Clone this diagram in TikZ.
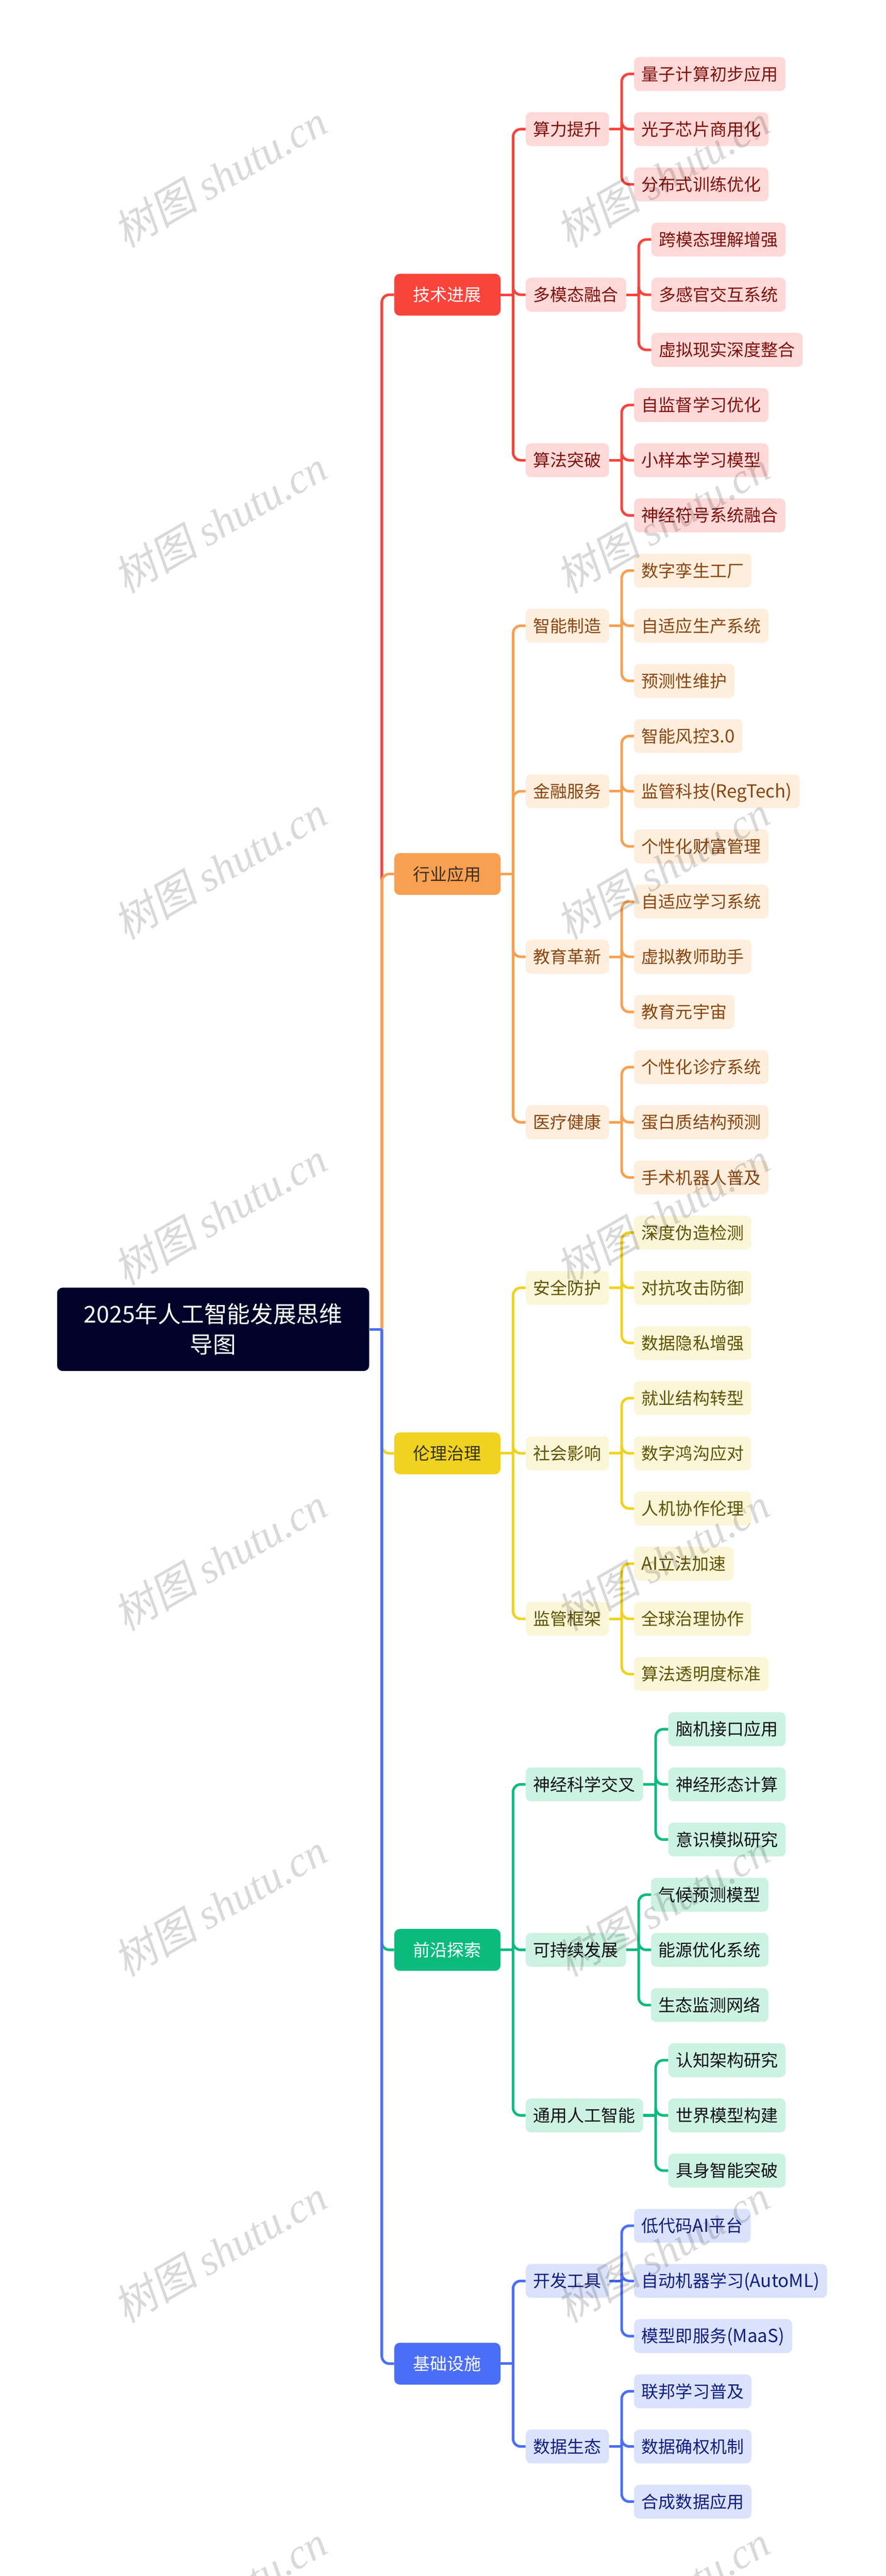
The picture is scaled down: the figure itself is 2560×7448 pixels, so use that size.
\documentclass[tikz,border=0pt]{standalone}
\usepackage{fontspec}
\setmainfont{Noto Sans CJK SC}
\newfontfamily\wmcjk[FakeSlant=0.18]{Noto Sans CJK SC}
\newfontfamily\wmlat{Liberation Serif}
\definecolor{redLine}{HTML}{F9443C}\definecolor{redFill}{HTML}{FDD9D8}\definecolor{redText}{HTML}{7F0F0A}
\definecolor{oraLine}{HTML}{F9A052}\definecolor{oraFill}{HTML}{FDEEDD}\definecolor{oraText}{HTML}{8A4510}\definecolor{oraHead}{HTML}{3B2E1E}
\definecolor{yelLine}{HTML}{F1D220}\definecolor{yelFill}{HTML}{FCF6D9}\definecolor{yelText}{HTML}{5F5300}\definecolor{yelHead}{HTML}{333322}
\definecolor{grnLine}{HTML}{0BBB7E}\definecolor{grnFill}{HTML}{CCF2E3}\definecolor{grnText}{HTML}{111111}
\definecolor{bluLine}{HTML}{4B6EF8}\definecolor{bluFill}{HTML}{DBE2FB}\definecolor{bluText}{HTML}{0F1F80}
\definecolor{rootFill}{HTML}{000229}
\newcommand{\lat}[1]{{\fontsize{26pt}{30pt}\selectfont #1}}
\newcommand{\leafbox}[5]{\node[subbox,#1] (#2) at (#3,{214+159.52*#4}) {#5};}
\newcommand{\mainbox}[4]{\node[topicbox,#1] (#2) at (1139,{214+159.52*#3}) {#4};}
\newcommand{\branch}[3]{\draw[conn,#1] (#2.east) -- ++(36,0) coordinate (tmpj);
  \draw[conn,#1,rounded corners=11pt] (tmpj) |- (#3.west);}
\begin{document}
\begin{tikzpicture}[x=0.5pt,y=-0.5pt,
  subbox/.style={anchor=west,rectangle,rounded corners=7.5pt,minimum height=49pt,inner xsep=11pt,inner ysep=0pt,
    font=\fontsize{24.6pt}{30pt}\selectfont,text height=24.6pt,text depth=5.9pt},
  topicbox/.style={anchor=west,rectangle,rounded corners=8pt,minimum height=60.5pt,minimum width=153.5pt,inner sep=0pt,
    font=\fontsize{24.6pt}{30pt}\selectfont,text height=24.6pt,text depth=5.9pt},
  redS/.style={fill=redFill,text=redText},oraS/.style={fill=oraFill,text=oraText},
  yelS/.style={fill=yelFill,text=yelText},grnS/.style={fill=grnFill,text=grnText},bluS/.style={fill=bluFill,text=bluText},
  redT/.style={fill=redLine,text=white},oraT/.style={fill=oraLine,text=oraHead},
  yelT/.style={fill=yelLine,text=yelHead},grnT/.style={fill=grnLine,text=white},bluT/.style={fill=bluLine,text=white},
  conn/.style={line width=3.75pt,line cap=butt},
  redC/.style={draw=redLine},oraC/.style={draw=oraLine},yelC/.style={draw=yelLine},grnC/.style={draw=grnLine},bluC/.style={draw=bluLine},
  wm/.style={rotate=30,text=black,text opacity=0.15,inner sep=0pt,font=\fontsize{61pt}{61pt}\selectfont}]
\fill[white] (0,0) rectangle (2560,7448);
\useasboundingbox (0,0) rectangle (2560,7448);
\node[rectangle,rounded corners=8pt,fill=rootFill,text=white,minimum width=451pt,minimum height=120.5pt,inner sep=0pt,align=center,
  font=\fontsize{33.3pt}{44pt}\selectfont] (root) at (616,3843.5) {2025年人工智能发展思维\\导图};
% level one
\mainbox{redT}{a}{4}{技术进展}
\mainbox{oraT}{b}{14.5}{行业应用}
\mainbox{yelT}{c}{25}{伦理治理}
\mainbox{grnT}{d}{34}{前沿探索}
\mainbox{bluT}{e}{41.5}{基础设施}
% red family
\leafbox{redS}{a1}{1519}{1}{算力提升}
\leafbox{redS}{a11}{1832}{0}{量子计算初步应用}
\leafbox{redS}{a12}{1832}{1}{光子芯片商用化}
\leafbox{redS}{a13}{1832}{2}{分布式训练优化}
\leafbox{redS}{a2}{1519}{4}{多模态融合}
\leafbox{redS}{a21}{1882}{3}{跨模态理解增强}
\leafbox{redS}{a22}{1882}{4}{多感官交互系统}
\leafbox{redS}{a23}{1882}{5}{虚拟现实深度整合}
\leafbox{redS}{a3}{1519}{7}{算法突破}
\leafbox{redS}{a31}{1832}{6}{自监督学习优化}
\leafbox{redS}{a32}{1832}{7}{小样本学习模型}
\leafbox{redS}{a33}{1832}{8}{神经符号系统融合}
% orange family
\leafbox{oraS}{b1}{1519}{10}{智能制造}
\leafbox{oraS}{b11}{1832}{9}{数字孪生工厂}
\leafbox{oraS}{b12}{1832}{10}{自适应生产系统}
\leafbox{oraS}{b13}{1832}{11}{预测性维护}
\leafbox{oraS}{b2}{1519}{13}{金融服务}
\leafbox{oraS}{b21}{1832}{12}{智能风控\lat{3.0}}
\leafbox{oraS}{b22}{1832}{13}{监管科技\lat{(RegTech)}}
\leafbox{oraS}{b23}{1832}{14}{个性化财富管理}
\leafbox{oraS}{b3}{1519}{16}{教育革新}
\leafbox{oraS}{b31}{1832}{15}{自适应学习系统}
\leafbox{oraS}{b32}{1832}{16}{虚拟教师助手}
\leafbox{oraS}{b33}{1832}{17}{教育元宇宙}
\leafbox{oraS}{b4}{1519}{19}{医疗健康}
\leafbox{oraS}{b41}{1832}{18}{个性化诊疗系统}
\leafbox{oraS}{b42}{1832}{19}{蛋白质结构预测}
\leafbox{oraS}{b43}{1832}{20}{手术机器人普及}
% yellow family
\leafbox{yelS}{c1}{1519}{22}{安全防护}
\leafbox{yelS}{c11}{1832}{21}{深度伪造检测}
\leafbox{yelS}{c12}{1832}{22}{对抗攻击防御}
\leafbox{yelS}{c13}{1832}{23}{数据隐私增强}
\leafbox{yelS}{c2}{1519}{25}{社会影响}
\leafbox{yelS}{c21}{1832}{24}{就业结构转型}
\leafbox{yelS}{c22}{1832}{25}{数字鸿沟应对}
\leafbox{yelS}{c23}{1832}{26}{人机协作伦理}
\leafbox{yelS}{c3}{1519}{28}{监管框架}
\leafbox{yelS}{c31}{1832}{27}{\lat{AI}立法加速}
\leafbox{yelS}{c32}{1832}{28}{全球治理协作}
\leafbox{yelS}{c33}{1832}{29}{算法透明度标准}
% green family
\leafbox{grnS}{d1}{1519}{31}{神经科学交叉}
\leafbox{grnS}{d11}{1931}{30}{脑机接口应用}
\leafbox{grnS}{d12}{1931}{31}{神经形态计算}
\leafbox{grnS}{d13}{1931}{32}{意识模拟研究}
\leafbox{grnS}{d2}{1519}{34}{可持续发展}
\leafbox{grnS}{d21}{1881}{33}{气候预测模型}
\leafbox{grnS}{d22}{1881}{34}{能源优化系统}
\leafbox{grnS}{d23}{1881}{35}{生态监测网络}
\leafbox{grnS}{d3}{1519}{37}{通用人工智能}
\leafbox{grnS}{d31}{1931}{36}{认知架构研究}
\leafbox{grnS}{d32}{1931}{37}{世界模型构建}
\leafbox{grnS}{d33}{1931}{38}{具身智能突破}
% blue family
\leafbox{bluS}{e1}{1519}{40}{开发工具}
\leafbox{bluS}{e11}{1832}{39}{低代码\lat{AI}平台}
\leafbox{bluS}{e12}{1832}{40}{自动机器学习\lat{(AutoML)}}
\leafbox{bluS}{e13}{1832}{41}{模型即服务\lat{(MaaS)}}
\leafbox{bluS}{e2}{1519}{43}{数据生态}
\leafbox{bluS}{e21}{1832}{42}{联邦学习普及}
\leafbox{bluS}{e22}{1832}{43}{数据确权机制}
\leafbox{bluS}{e23}{1832}{44}{合成数据应用}
% connectors
\branch{redC}{root}{a}
\foreach \k in {a1,a2,a3}{\branch{redC}{a}{\k}}
\foreach \p in {a1,a2,a3}{\foreach \k in {1,2,3}{\branch{redC}{\p}{\p\k}}}
\branch{oraC}{root}{b}
\foreach \k in {b1,b2,b3,b4}{\branch{oraC}{b}{\k}}
\foreach \p in {b1,b2,b3,b4}{\foreach \k in {1,2,3}{\branch{oraC}{\p}{\p\k}}}
\branch{yelC}{root}{c}
\foreach \k in {c1,c2,c3}{\branch{yelC}{c}{\k}}
\foreach \p in {c1,c2,c3}{\foreach \k in {1,2,3}{\branch{yelC}{\p}{\p\k}}}
\branch{grnC}{root}{d}
\foreach \k in {d1,d2,d3}{\branch{grnC}{d}{\k}}
\foreach \p in {d1,d2,d3}{\foreach \k in {1,2,3}{\branch{grnC}{\p}{\p\k}}}
\branch{bluC}{root}{e}
\foreach \k in {e1,e2}{\branch{bluC}{e}{\k}}
\foreach \p in {e1,e2}{\foreach \k in {1,2,3}{\branch{bluC}{\p}{\p\k}}}
% watermark
\foreach \n in {0,...,7}{
  \node[wm] (wl\n) at (636,{508+1000*\n}) {{\wmcjk 树图} {\wmlat\itshape shutu.cn}};
  \node[wm] (wr\n) at (1916,{508+1000*\n}) {{\wmcjk 树图} {\wmlat\itshape shutu.cn}};
}
\end{tikzpicture}
\end{document}
